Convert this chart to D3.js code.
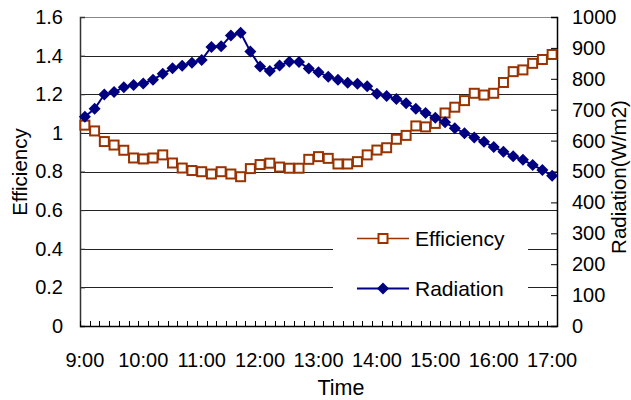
<!DOCTYPE html>
<html>
<head>
<meta charset="utf-8">
<script src="https://cdn.jsdelivr.net/npm/d3@7"></script>
<style>
  html, body { margin: 0; padding: 0; background: #fff; }
  svg { display: block; }
  text { font-family: "Liberation Sans", Arial, sans-serif; fill: #000; }
</style>
</head>
<body>
<svg id="chart" width="631" height="400"></svg>
<script>
// Sampling times, every 10 minutes
const categories = [
  "9:00","9:10","9:20","9:30","9:40","9:50",
  "10:00","10:10","10:20","10:30","10:40","10:50",
  "11:00","11:10","11:20","11:30","11:40","11:50",
  "12:00","12:10","12:20","12:30","12:40","12:50",
  "13:00","13:10","13:20","13:30","13:40","13:50",
  "14:00","14:10","14:20","14:30","14:40","14:50",
  "15:00","15:10","15:20","15:30","15:40","15:50",
  "16:00","16:10","16:20","16:30","16:40","16:50",
  "17:00"
];

// Efficiency (left axis)
const efficiency = [
  1.04, 1.01, 0.955, 0.937, 0.91, 0.87, 0.865, 0.87, 0.886, 0.844,
  0.818, 0.805, 0.799, 0.787, 0.799, 0.787, 0.773, 0.815, 0.836, 0.843,
  0.823, 0.817, 0.817, 0.863, 0.877, 0.868, 0.839, 0.839, 0.851, 0.886,
  0.911, 0.923, 0.967, 0.987, 1.036, 1.031, 1.049, 1.103, 1.133, 1.167,
  1.205, 1.196, 1.205, 1.261, 1.317, 1.326, 1.36, 1.38, 1.406
];

// Solar radiation in W/m2 (right axis)
const radiation = [
  677, 703, 749, 757, 773, 780, 785, 797, 816, 834,
  842, 852, 861, 903, 905, 940, 949, 888, 840, 825,
  843, 855, 854, 833, 821, 807, 797, 787, 784, 776,
  752, 744, 735, 721, 703, 689, 674, 659, 640, 624,
  610, 596, 579, 564, 549, 538, 521, 505, 486
];

const hourLabels = ["9:00","10:00","11:00","12:00","13:00","14:00","15:00","16:00","17:00"];
const leftTicks = [0, 0.2, 0.4, 0.6, 0.8, 1, 1.2, 1.4, 1.6];
const rightTicks = [0, 100, 200, 300, 400, 500, 600, 700, 800, 900, 1000];

const effColor = "#993300";
const radColor = "#000080";
const tickFont = "20px";
const titleFont = "20.5px";
const legendFont = "21px";

const svg = d3.select("#chart");
const plot = { left: 80, right: 557, top: 17, bottom: 326 };

const x = d3.scaleBand().domain(categories).range([plot.left, plot.right]).padding(0);
const cx = c => x(c) + x.bandwidth() / 2;
const yL = d3.scaleLinear().domain([0, 1.6]).range([plot.bottom, plot.top]);
const yR = d3.scaleLinear().domain([0, 1000]).range([plot.bottom, plot.top]);

// Horizontal gridlines
svg.append("g").selectAll("line")
  .data(leftTicks.filter(v => v > 0 && v < 1.6))
  .join("line")
  .attr("x1", plot.left).attr("x2", plot.right)
  .attr("y1", d => Math.round(yL(d)) + 0.5).attr("y2", d => Math.round(yL(d)) + 0.5)
  .attr("stroke", "#222").attr("stroke-width", 1);

// Plot-area top border
svg.append("line")
  .attr("x1", plot.left).attr("x2", plot.right)
  .attr("y1", plot.top + 0.5).attr("y2", plot.top + 0.5)
  .attr("stroke", "#888").attr("stroke-width", 1.2);

// Left axis
const axL = svg.append("g")
  .attr("transform", `translate(${plot.left},0)`)
  .call(d3.axisLeft(yL).tickValues(leftTicks).tickFormat(d => String(d)).tickSize(-5).tickPadding(17));
axL.select(".domain").attr("stroke", "#333").attr("stroke-width", 1.5);
axL.selectAll(".tick line").attr("stroke", "#333");
axL.selectAll("text").style("font-size", tickFont).style("font-family", "Liberation Sans, Arial, sans-serif");

// Right axis
const axR = svg.append("g")
  .attr("transform", `translate(${plot.right},0)`)
  .call(d3.axisRight(yR).tickValues(rightTicks).tickFormat(d => String(d)).tickSize(-6).tickPadding(15));
axR.select(".domain").attr("stroke", "#000").attr("stroke-width", 1.5);
axR.selectAll(".tick line").attr("stroke", "#000");
axR.selectAll("text").style("font-size", tickFont).style("font-family", "Liberation Sans, Arial, sans-serif");

// Bottom axis line with tick marks between categories
svg.append("line")
  .attr("x1", plot.left).attr("x2", plot.right)
  .attr("y1", plot.bottom + 0.5).attr("y2", plot.bottom + 0.5)
  .attr("stroke", "#000").attr("stroke-width", 1.5);
const boundaries = categories.map(c => x(c)).concat([x.range()[1]]);
svg.append("g").selectAll("line")
  .data(boundaries)
  .join("line")
  .attr("x1", d => Math.round(d) + 0.5).attr("x2", d => Math.round(d) + 0.5)
  .attr("y1", plot.bottom).attr("y2", plot.bottom - 5)
  .attr("stroke", "#000").attr("stroke-width", 1);

// Hour labels under the axis
const axB = svg.append("g")
  .attr("transform", `translate(0,${plot.bottom})`)
  .call(d3.axisBottom(x).tickValues(hourLabels).tickSize(0).tickPadding(27));
axB.select(".domain").remove();
axB.selectAll("text").style("font-size", tickFont).style("font-family", "Liberation Sans, Arial, sans-serif");

// Axis titles
svg.append("text")
  .attr("x", 341).attr("y", 395)
  .attr("text-anchor", "middle").style("font-size", "21.5px")
  .text("Time");
svg.append("text")
  .attr("transform", "translate(27,172) rotate(-90)")
  .attr("text-anchor", "middle").style("font-size", titleFont)
  .text("Efficiency");
svg.append("text")
  .attr("transform", "translate(626,177) rotate(-90)")
  .attr("text-anchor", "middle").style("font-size", titleFont)
  .text("Radiation(W/m2)");

// Efficiency series
svg.append("path")
  .datum(efficiency)
  .attr("fill", "none").attr("stroke", effColor).attr("stroke-width", 1.5)
  .attr("d", d3.line().x((d, i) => cx(categories[i])).y(d => yL(d)));
svg.append("g").selectAll("rect")
  .data(efficiency)
  .join("rect")
  .attr("x", (d, i) => cx(categories[i]) - 4.5)
  .attr("y", d => yL(d) - 4.5)
  .attr("width", 9).attr("height", 9)
  .attr("fill", "#fff").attr("stroke", effColor).attr("stroke-width", 2);

// Radiation series
const diamond = "M0,-6L6,0L0,6L-6,0Z";
svg.append("path")
  .datum(radiation)
  .attr("fill", "none").attr("stroke", radColor).attr("stroke-width", 2)
  .attr("d", d3.line().x((d, i) => cx(categories[i])).y(d => yR(d)));
svg.append("g").selectAll("path")
  .data(radiation)
  .join("path")
  .attr("transform", (d, i) => `translate(${cx(categories[i])},${yR(d)})`)
  .attr("d", diamond)
  .attr("fill", radColor);

// Legend
const legend = svg.append("g");
legend.append("rect")
  .attr("x", 333).attr("y", 216).attr("width", 195).attr("height", 98)
  .attr("fill", "#fff");
const entries = [
  { name: "Efficiency", color: effColor, y: 239, type: "square" },
  { name: "Radiation", color: radColor, y: 289, type: "diamond" }
];
entries.forEach(e => {
  const my = e.y - 0.5;
  legend.append("line")
    .attr("x1", 357).attr("x2", 409).attr("y1", my).attr("y2", my)
    .attr("stroke", e.color).attr("stroke-width", e.type === "square" ? 1.5 : 2);
  if (e.type === "square") {
    legend.append("rect")
      .attr("x", 383 - 4.5).attr("y", my - 4.5).attr("width", 9).attr("height", 9)
      .attr("fill", "#fff").attr("stroke", e.color).attr("stroke-width", 2);
  } else {
    legend.append("path")
      .attr("transform", `translate(383,${my})`).attr("d", diamond).attr("fill", e.color);
  }
  legend.append("text")
    .attr("x", 415).attr("y", e.y).attr("dy", "0.35em")
    .style("font-size", legendFont)
    .text(e.name);
});
</script>
</body>
</html>
